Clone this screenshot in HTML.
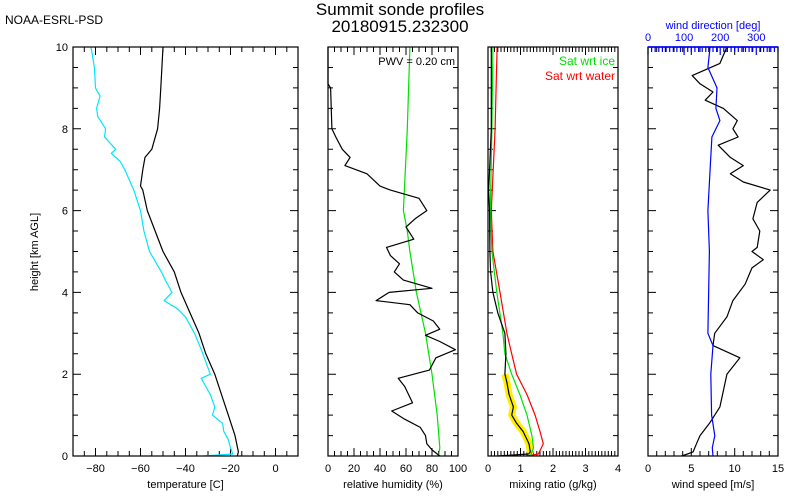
<!DOCTYPE html>
<html><head><meta charset="utf-8"><style>
html,body{margin:0;padding:0;background:#fff;}
svg{display:block;font-family:"Liberation Sans",sans-serif;}
</style></head><body>
<svg id="c" width="800" height="500" viewBox="0 0 800 500">
<text x="5" y="24" font-size="12">NOAA-ESRL-PSD</text>
<text x="400" y="15" font-size="17" text-anchor="middle">Summit sonde profiles</text>
<text x="400" y="32" font-size="17" text-anchor="middle">20180915.232300</text>
<text transform="translate(38,252) rotate(-90)" font-size="11" text-anchor="middle">height [km AGL]</text>
</svg>
<script>
// ---- data ----
const tempH=[0,0.1,0.5,1,1.5,2,2.5,3,3.5,4,4.5,5,6,6.5,6.6,7,7.3,7.5,8,8.5,9,10];
const tempV=[-17,-16.5,-18,-21,-24,-27,-31,-34,-38,-42,-45,-50,-57,-59,-60,-59,-58,-55,-52.4,-51.5,-51,-50];
const dewH=[0,0.05,0.2,0.4,0.6,0.8,1,1.2,1.5,1.7,1.9,2,2.3,2.6,3,3.4,3.6,3.8,4,4.3,4.5,5,5.5,6,6.5,7,7.2,7.4,7.5,7.8,8,8.3,8.5,8.8,9,9.5,10];
const dewV=[-32,-19,-20,-21,-23,-23.5,-28,-27,-29,-31,-33,-29,-31,-33,-36,-40,-43.5,-49.5,-46,-49,-50.7,-56,-58.5,-60,-63,-67,-69,-73,-71,-76,-75.5,-79,-79.5,-78,-80,-80.5,-82];
const rhH=[0,0.15,0.3,0.5,0.7,0.9,1.1,1.3,1.5,1.7,1.9,2.1,2.4,2.6,2.8,2.95,3.1,3.3,3.5,3.7,3.8,4.0,4.1,4.3,4.5,4.7,4.9,5.1,5.3,5.6,5.8,6.0,6.3,6.5,6.6,6.9,7.1,7.3,7.5,7.8,8.0,9.0,9.1,10];
const rhV=[86,80,76,75,71,59,49,65,62,59,54,78,83,98,86,75,86,81,69,63,37,47,80,58,51,55,48,45,66,60,67,76,70,48,40,30,13,17,11,6,3,2,0,0];
const rhIceH=[0,0.2,1,2,3,4,5,5.5,6,8,10];
const rhIceV=[85,86,84,80,75,68,63,61,58,61,63];
const mrH=[0,0.05,0.1,0.3,0.6,0.8,1,1.2,1.5,1.8,2,2.5,3,3.5,4,4.5,5,6,6.5,7,8,9,10];
const mrV=[0.3,1.25,1.3,1.26,1.08,0.88,0.73,0.78,0.65,0.58,0.52,0.55,0.52,0.3,0.15,0.08,0.06,0.05,0.02,0.05,0.1,0.1,0.1];
const iceH=[0,0.2,0.5,1,1.5,2,2.5,3,4,5,6,8,10];
const iceV=[1.3,1.4,1.35,1.2,0.98,0.73,0.52,0.46,0.27,0.12,0.07,0.12,0.15];
const watH=[0,0.05,0.3,0.6,1,1.5,2,2.5,3,4,5,6,8,10];
const watV=[1.2,1.55,1.7,1.6,1.45,1.2,0.88,0.73,0.58,0.37,0.15,0.1,0.22,0.28];
const wsH=[0,0.1,0.3,0.5,0.8,1.2,1.6,2.0,2.4,2.7,3.0,3.4,3.8,4.2,4.6,4.8,5.0,5.1,5.5,5.8,6.2,6.5,6.7,6.9,7.1,7.3,7.6,7.8,8.0,8.2,8.5,8.7,8.9,9.1,9.3,9.6,10];
const wsV=[3.9,5.2,5.6,6,7.1,8.3,8.7,9.1,10.6,7.5,7.7,9.1,9.8,11.2,12,13.3,12,12.6,12.9,12.1,12.6,14.1,11,9.5,11,9.5,8.1,10.4,9.8,10.3,8.7,6.6,7.5,6,5.1,8.3,9.1];
const wdH=[0,0.2,0.5,1,2,2.7,3,5,6,7,7.8,8.2,8.5,9,9.5,10];
const wdV=[180,178,185,176,174,180,166,170,166,172,177,199,188,191,166,172];
const tempTicks=[-80,-60,-40,-20,0];
const rhTicks=[0,20,40,60,80,100];
const mrTicks=[0,1,2,3,4];
const wsTicks=[0,5,10,15];
const wdTicks=[0,100,200,300];
const hTicks=[0,2,4,6,8,10];

const svg=document.getElementById('c');
const NS='http://www.w3.org/2000/svg';
const Y0=456,Y1=47;
const y=h=>Y0-(h/10)*(Y0-Y1);
function mk(tag,attrs,parent){const e=document.createElementNS(NS,tag);for(const k in attrs)e.setAttribute(k,attrs[k]);(parent||svg).appendChild(e);return e;}
const panels=[
 {name:'temperature',x0:73,x1:298,min:-90,max:10,minor:5,ticks:tempTicks,title:'temperature [C]'},
 {name:'humidity',x0:328,x1:458,min:0,max:100,minor:5,ticks:rhTicks,title:'relative humidity (%)'},
 {name:'mixing',x0:488,x1:618,min:0,max:4,minor:0.1,ticks:mrTicks,title:'mixing ratio (g/kg)'},
 {name:'wind',x0:648,x1:778,min:0,max:15,minor:1,ticks:wsTicks,title:'wind speed [m/s]'}];
panels.forEach(p=>{p.x=v=>p.x0+(v-p.min)/(p.max-p.min)*(p.x1-p.x0);});
panels.forEach((p,i)=>{
 const g=mk('g',{});
 
 
 let d='';
 for(let v=p.min;v<=p.max+1e-9;v+=p.minor){const X=p.x(v).toFixed(1);const major=p.ticks.some(t=>Math.abs(t-v)<1e-6);const L=major?8:5;d+=`M${X} ${Y0}v${-L}M${X} ${Y1}v${L}`;}
 for(let h=0;h<=10.001;h+=0.5){const Y=y(h).toFixed(1);const L=(Math.abs(h%2)<1e-6)?8:5;d+=`M${p.x0} ${Y}h${L}M${p.x1} ${Y}h${-L}`;}
 const tk=mk('path',{d:d,stroke:'#000','stroke-width':1,fill:'none'},g);
 
 
 p.ticks.forEach(t=>{const tx=mk('text',{x:p.x(t),y:472,'font-size':11,'text-anchor':'middle'},g);tx.textContent=(t<0?'\u2212'+(-t):t);
  
  });
 const tt=mk('text',{x:(p.x0+p.x1)/2,y:488,'font-size':11,'text-anchor':'middle'},g);tt.textContent=p.title;
 
 
 p.g=g;
});
hTicks.forEach(h=>{const t=mk('text',{x:68,y:y(h)+4,'font-size':11,'text-anchor':'end'});t.textContent=h;
 
 });
function line(p,H,V,color,name,w){const pts=H.map((h,i)=>p.x(V[i]).toFixed(1)+','+y(h).toFixed(1)).join(' ');
 const e=mk('polyline',{points:pts,fill:'none',stroke:color,'stroke-width':w||1.2,'stroke-linejoin':'round'},p.g);
 
 return e;}
const [pT,pR,pM,pW]=panels;
line(pT,dewH,dewV,'#00e5ff','dewpoint-line');
line(pT,tempH,tempV,'#000','temperature-line');
line(pR,rhIceH,rhIceV,'#00e000','rh-ice-saturation-line');
line(pR,rhH,rhV,'#000','relative-humidity-line');
// yellow highlight on lower part of mixing ratio
const hiH=[],hiV=[];mrH.forEach((h,i)=>{if(h>0&&h<=2.1){hiH.push(h);hiV.push(mrV[i]);}});
line(pM,hiH,hiV,'#ffee00','mixing-ratio-highlight',7);
line(pM,watH,watV,'#ff0000','sat-water-line');
line(pM,iceH,iceV,'#00e000','sat-ice-line');
line(pM,mrH,mrV,'#000','mixing-ratio-line');
line(pW,wsH,wsV,'#000','wind-speed-line');
const wd={x0:648,x1:778,x:v=>648+v/360*130,g:pW.g};
line(wd,wdH,wdV,'#0000ff','wind-direction-line');
// wind direction top axis
let dd='';for(let v=0;v<=360;v+=10){const X=wd.x(v).toFixed(1);dd+=`M${X} ${Y1}v${v%100==0?8:5}`;}
dd+=`M648 ${Y1}H778`;
const wda=mk('path',{d:dd,stroke:'#0000ff','stroke-width':1.2,fill:'none'});


wdTicks.forEach(t=>{const e=mk('text',{x:wd.x(t),y:41,'font-size':11,'text-anchor':'middle',fill:'#0000ff'});e.textContent=t;
 
 });
const wdt=mk('text',{x:713,y:29,'font-size':11,'text-anchor':'middle',fill:'#0000ff'});wdt.textContent='wind direction [deg]';


// frames
panels.forEach(p=>{const r=mk('rect',{x:p.x0,y:Y1,width:p.x1-p.x0,height:Y0-Y1,fill:'none',stroke:'#000','stroke-width':1.2});
 
 });
mk('path',{d:`M648 ${Y1}H778`,stroke:'#0000ff','stroke-width':1.5});
const pwv=mk('text',{x:455,y:65,'font-size':11,'text-anchor':'end'});pwv.textContent='PWV = 0.20 cm';


const l1=mk('text',{x:615,y:65,'font-size':12,'text-anchor':'end',fill:'#00e000'});l1.textContent='Sat wrt ice';


const l2=mk('text',{x:615,y:80,'font-size':12,'text-anchor':'end',fill:'#ff0000'});l2.textContent='Sat wrt water';


</script>
</body></html>
